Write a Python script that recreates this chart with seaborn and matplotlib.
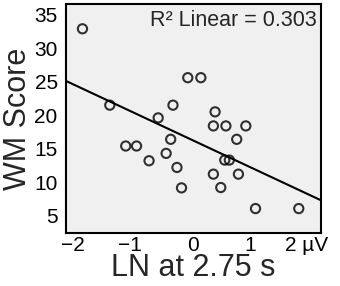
import matplotlib
matplotlib.use("Agg")
import numpy as np
import pandas as pd
import matplotlib.pyplot as plt
import matplotlib.transforms as mtransforms
import seaborn as sns

# LN amplitude at 2.75 s (µV) and working memory score
ln_amplitude = [-1.94, -0.09, 0.14, -1.46, -0.35, -0.61, -1.18, -0.99, -0.39,
                -0.47, -0.77, -0.28, -0.20, 0.39, 0.36, 0.58, 0.93, 0.77,
                0.56, 0.64, 0.36, 0.80, 0.49, 1.10, 1.86]
wm_score = [32.9, 25.6, 25.6, 21.5, 21.5, 19.6, 15.4, 15.4, 16.4,
            14.3, 13.2, 12.2, 9.15, 20.5, 18.4, 18.4, 18.4, 16.4,
            13.3, 13.3, 11.2, 11.2, 9.2, 6.06, 6.06]
x_ticks = [-2, -1, 0, 1, 2]
x_tick_labels = ["\u22122", "\u22121", "0", "1", "2 \u00b5V"]
y_ticks = [5, 10, 15, 20, 25, 30, 35]
r2_label = "R\u00b2 Linear = 0.303"

df = pd.DataFrame({"ln": ln_amplitude, "wm": wm_score})

sns.set_style("white")
plt.rcParams["font.family"] = ["Liberation Sans", "DejaVu Sans"]

fig = plt.figure(figsize=(3.4, 2.86), dpi=100)
ax = fig.add_axes([0.194, 0.185, 0.75, 0.801])
ax.set_facecolor("#f0f0f0")

# limits first so the fit line spans the whole box (truncate=False)
ax.set_xlim(-2.23, 2.25)
ax.set_ylim(2.4, 36.6)
sns.regplot(
    data=df, x="ln", y="wm", ax=ax, ci=None, truncate=False,
    scatter_kws=dict(s=44, facecolors="none", edgecolors="black", linewidths=1.5),
    line_kws=dict(color="black", linewidth=1.5),
)
ax.set_xlim(-2.23, 2.25)
ax.set_ylim(2.4, 36.6)

ax.set_xticks(x_ticks)
ax.set_xticklabels(x_tick_labels)
ax.set_yticks(y_ticks)
ax.tick_params(length=0, labelsize=15, colors="black")
ax.tick_params(axis="y", pad=6)
ax.tick_params(axis="x", pad=2)
ax.set_xlabel("LN at 2.75 s", fontsize=22, labelpad=-1)
ax.set_ylabel("WM Score", fontsize=22, labelpad=1)

# negative labels: digit sits on the tick, minus hangs to the left
shift = mtransforms.ScaledTranslation(-6 / 100, 0, fig.dpi_scale_trans)
for lab in ax.get_xticklabels():
    if lab.get_text().startswith("\u2212"):
        lab.set_transform(lab.get_transform() + shift)

for sp in ax.spines.values():
    sp.set_color("black")
    sp.set_linewidth(1.5)

ax.text(0.985, 0.975, r2_label, transform=ax.transAxes, ha="right", va="top",
        fontsize=15.5)

fig.savefig("out.png", dpi=100)
